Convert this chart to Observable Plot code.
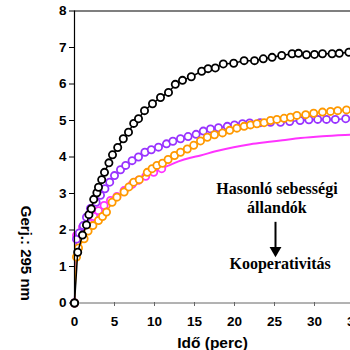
<!DOCTYPE html>
<html>
<head>
<meta charset="utf-8">
<script src="https://cdn.jsdelivr.net/npm/d3@7"></script>
<script src="https://cdn.jsdelivr.net/npm/@observablehq/plot@0.6"></script>
<style>
  html, body { margin: 0; padding: 0; background: white; }
  #chart svg { display: block; overflow: hidden; }
</style>
</head>
<body>
<div id="chart"></div>
<script>
// Black series
const tBlack = [0, 0.4, 1.0, 1.5, 1.8, 2.1, 2.4, 2.8, 3.0, 3.4, 3.75, 4.3, 4.75, 5.4, 6.1, 6.75, 7.4, 8.0, 8.75, 9.75, 10.75, 11.75, 12.6, 13.5, 14.6, 15.9, 16.7, 17.6, 18.6, 19.9, 21.2, 22.5, 23.6, 24.7, 25.9, 27.2, 28.0, 29.0, 30.0, 31.0, 32.2, 33.1, 34.3];
const vBlack = [0, 1.39, 1.86, 2.14, 2.42, 2.58, 2.84, 3.02, 3.17, 3.38, 3.58, 3.84, 4.06, 4.26, 4.5, 4.68, 4.92, 5.05, 5.27, 5.46, 5.63, 5.77, 5.99, 6.1, 6.2, 6.35, 6.42, 6.44, 6.55, 6.57, 6.64, 6.64, 6.69, 6.73, 6.78, 6.83, 6.84, 6.8, 6.81, 6.83, 6.83, 6.84, 6.87];

// Purple series
const tPurple = [0, 0.25, 0.6, 1.1, 1.5, 2.0, 2.7, 3.25, 3.8, 4.4, 5.0, 5.75, 6.4, 7.2, 8.0, 8.8, 9.6, 10.5, 11.5, 12.3, 13.25, 14.2, 15.2, 16.1, 17.0, 18.0, 19.1, 20.0, 21.0, 21.9, 23.2, 24.5, 25.75, 26.9, 28.2, 29.3, 30.4, 31.5, 32.6, 33.9];
const vPurple = [0, 1.75, 1.92, 2.12, 2.35, 2.59, 2.76, 2.95, 3.13, 3.31, 3.49, 3.65, 3.77, 3.9, 4.0, 4.13, 4.2, 4.27, 4.36, 4.43, 4.5, 4.56, 4.62, 4.71, 4.77, 4.8, 4.84, 4.88, 4.91, 4.93, 4.94, 4.95, 4.95, 4.97, 5.0, 5.02, 5.03, 5.03, 5.03, 5.05];

// Orange series
const tOrange = [0, 0.25, 0.5, 1.2, 1.7, 2.3, 3.0, 3.5, 4.0, 4.7, 5.3, 6.2, 6.8, 7.4, 8.1, 9.1, 9.7, 10.3, 11.0, 11.7, 12.5, 13.25, 14.1, 14.9, 15.75, 16.6, 17.5, 18.5, 19.4, 20.3, 21.2, 22.0, 22.8, 23.7, 24.5, 25.3, 26.2, 27.0, 27.8, 28.9, 29.9, 31.0, 32.0, 32.9, 34.0];
const vOrange = [0, 1.26, 1.51, 1.76, 1.97, 2.12, 2.26, 2.37, 2.49, 2.76, 2.9, 3.04, 3.18, 3.31, 3.38, 3.58, 3.68, 3.77, 3.83, 3.93, 4.04, 4.13, 4.22, 4.32, 4.44, 4.54, 4.61, 4.66, 4.73, 4.79, 4.84, 4.88, 4.91, 4.94, 5.0, 5.03, 5.06, 5.09, 5.14, 5.16, 5.2, 5.23, 5.25, 5.27, 5.29];

// Magenta series (measured points, then fitted line)
const tMagenta = [0, 0.25, 1.0, 1.7, 2.4, 3.0, 3.7, 4.5, 5.3, 6.2, 7.2, 8.0, 8.9, 9.9, 10.9];
const vMagenta = [0, 1.85, 2.08, 2.21, 2.37, 2.53, 2.67, 2.81, 2.92, 3.08, 3.25, 3.36, 3.47, 3.58, 3.68];
const tMagentaFit = [10.9, 11.8, 13.0, 14.5, 15.75, 17.5, 19.9, 22.0, 24.1, 26.0, 28.25, 31.0, 34.5, 35.5];
const vMagentaFit = [3.68, 3.77, 3.88, 3.98, 4.04, 4.15, 4.27, 4.35, 4.41, 4.46, 4.52, 4.57, 4.61, 4.62];

// Axis ticks
const xTicks = [0, 5, 10, 15, 20, 25, 30, 35];
const yTicks = [0, 1, 2, 3, 4, 5, 6, 7, 8];

// Texts
const xLabel = ["Idő (perc)"];
const sideLabel = ["Gerj.: 295 nm"];
const noteTop = ["Hasonló sebességi", "állandók"];
const noteBottom = ["Kooperativitás"];

const colBlack = "#000000", colPurple = "#9933ff", colOrange = "#ff9900", colMagenta = "#ff33ff";

const zip = (t, v) => t.map((x, i) => ({t: x, v: v[i]}));
const black = zip(tBlack, vBlack);
const purple = zip(tPurple, vPurple);
const orange = zip(tOrange, vOrange);
const magenta = zip(tMagenta, vMagenta);
const magentaFit = zip(tMagentaFit, vMagentaFit);

function series(data, color) {
  return [
    Plot.line(data, {x: "t", y: "v", stroke: color, strokeWidth: 1.5}),
    Plot.dot(data, {x: "t", y: "v", r: 3.6, stroke: color, strokeWidth: 1.8, fill: "white"})
  ];
}

const serif = "'Liberation Serif', 'Times New Roman', serif";

const chart = Plot.plot({
  width: 350,
  height: 350,
  marginLeft: 74, marginRight: 0, marginTop: 11, marginBottom: 48,
  x: {domain: [0, 35], range: [74, 354]},
  y: {domain: [0, 8], range: [302.5, 10.5]},
  style: {fontFamily: "'Liberation Sans', Arial, sans-serif", fontWeight: "bold", fontSize: "13px", background: "white", color: "black"},
  marks: [
    Plot.axisY({ticks: yTicks, tickSize: 5, tickPadding: 3, label: null, fontSize: 13.5}),
    Plot.axisX({ticks: xTicks, tickSize: 4, tickPadding: 10, label: null, stroke: "#666", fill: "black", fontSize: 13.5}),
    Plot.ruleY([0], {stroke: "#666", strokeWidth: 1}),
    Plot.ruleY([8], {stroke: "black", strokeWidth: 1.2}),
    Plot.line(magentaFit, {x: "t", y: "v", stroke: colMagenta, strokeWidth: 2, curve: "monotone-x"}),
    ...series(magenta, colMagenta),
    ...series(purple, colPurple),
    ...series(orange, colOrange),
    ...series(black, colBlack),
    Plot.ruleX([0], {y1: 0, y2: 8, stroke: "black", strokeWidth: 1.2}),
    Plot.dot([0], {x: 0, y: 0, r: 3.6, stroke: "black", strokeWidth: 1.8, fill: "white"}),
    // annotation
    Plot.text(noteTop, {x: 25.3, y: (d, i) => [3.12, 2.60][i], text: d => d, fontFamily: serif, fontSize: 16, fontWeight: "bold", fill: "black"}),
    Plot.text(noteBottom, {x: 25.7, y: 1.06, text: d => d, fontFamily: serif, fontSize: 16, fontWeight: "bold", fill: "black"}),
    Plot.ruleX([25.125], {y1: 2.21, y2: 1.42, stroke: "black", strokeWidth: 2}),
    Plot.dot([25.125], {x: d => d, y: 1.44, symbol: "triangle", r: 4.4, rotate: 180, fill: "black", stroke: "none"}),
    // side and x labels
    Plot.text(sideLabel, {x: -6.1, y: 1.36, text: d => d, rotate: 90, fontSize: 15, fontWeight: "bold", fill: "black"}),
    Plot.text(xLabel, {x: 17.25, y: -1.1, text: d => d, fontSize: 15.5, fontWeight: "bold", fill: "black"})
  ]
});

document.getElementById("chart").appendChild(chart);
</script>
</body>
</html>
